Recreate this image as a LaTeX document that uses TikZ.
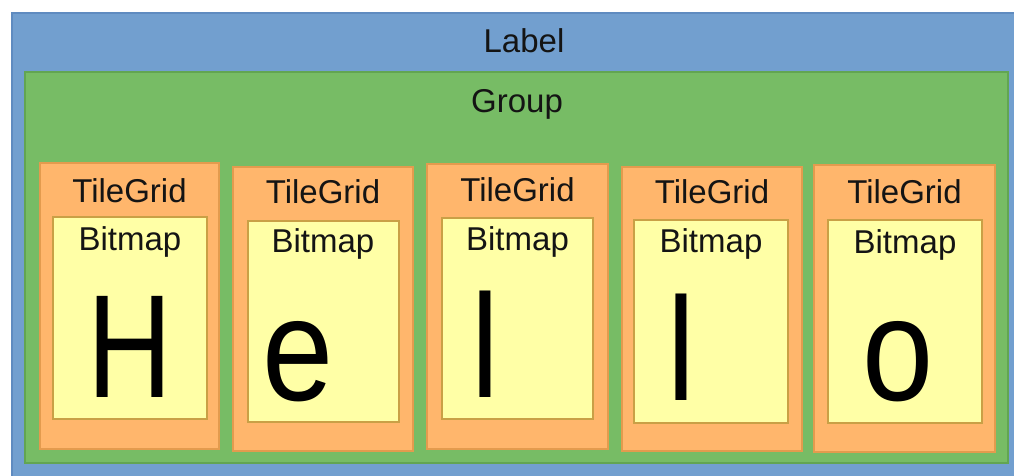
\documentclass[tikz,border=0pt]{standalone}
\usepackage{fontspec}
\setmainfont{Liberation Sans}
\definecolor{boxblue}{HTML}{729FCF}
\definecolor{boxblueline}{HTML}{5F8BC0}
\definecolor{boxgreen}{HTML}{77BC65}
\definecolor{boxgreenline}{HTML}{62A552}
\definecolor{boxorange}{HTML}{FFB66C}
\definecolor{boxorangeline}{HTML}{E39B4E}
\definecolor{boxyellow}{HTML}{FFFFA6}
\definecolor{boxyellowline}{HTML}{C9A046}
\definecolor{inktext}{HTML}{141414}
\newcommand{\narrowglyph}[2]{\scalebox{#1}[1]{#2}}
\tikzset{
  labelbox/.style={fill=boxblue, draw=boxblueline, line width=1.2pt},
  groupbox/.style={fill=boxgreen, draw=boxgreenline, line width=1.2pt},
  tilebox/.style={fill=boxorange, draw=boxorangeline, line width=1.2pt},
  bitbox/.style={fill=boxyellow, draw=boxyellowline, line width=1.2pt},
  caption/.style={anchor=base, inner sep=0pt, text=inktext, font=\fontsize{33}{36}\selectfont},
  glyph/.style={anchor=base, inner sep=0pt, text=black, font=\fontsize{147}{150}\selectfont}
}
\begin{document}
\begin{tikzpicture}[x=1pt, y=-1pt]
\useasboundingbox (0,0) rectangle (1014,476);
\clip (0,0) rectangle (1014,476);
\fill[white] (0,0) rectangle (1014,476);
% Label
\draw[labelbox] (12,13) rectangle (1024,490);
\node[caption] (label) at (524,53) {Label};
% Group
\draw[groupbox] (25,72) rectangle (1008,463);
\node[caption] (group) at (517,113) {Group};
% Tile 1
\draw[tilebox] (40,163) rectangle (219,449);
\node[caption] (tg1) at (129.5,202) {TileGrid};
\draw[bitbox] (53,217) rectangle (207,419);
\node[caption] (bm1) at (130,250) {Bitmap};
\node[glyph] (ch1) at (130,397) {\narrowglyph{0.8}{H}};
% Tile 2
\draw[tilebox] (233,167) rectangle (413,451);
\node[caption] (tg2) at (323,203) {TileGrid};
\draw[bitbox] (248,221) rectangle (399,422);
\node[caption] (bm2) at (323,252) {Bitmap};
\node[glyph] (ch2) at (298.5,400) {\narrowglyph{0.87}{e}};
% Tile 3
\draw[tilebox] (427,164) rectangle (608,449);
\node[caption] (tg3) at (517.5,201) {TileGrid};
\draw[bitbox] (442,218) rectangle (593,419);
\node[caption] (bm3) at (517.5,250) {Bitmap};
\node[glyph] (ch3) at (485.5,397) {\narrowglyph{0.85}{l}};
% Tile 4
\draw[tilebox] (622,167) rectangle (802,451);
\node[caption] (tg4) at (712,203) {TileGrid};
\draw[bitbox] (634,220) rectangle (788,423);
\node[caption] (bm4) at (711,252) {Bitmap};
\node[glyph] (ch4) at (681,400) {\narrowglyph{0.85}{l}};
% Tile 5
\draw[tilebox] (814,165) rectangle (995,452);
\node[caption] (tg5) at (904.5,203) {TileGrid};
\draw[bitbox] (828,220) rectangle (982,423);
\node[caption] (bm5) at (905,253) {Bitmap};
\node[glyph] (ch5) at (898,400) {\narrowglyph{0.87}{o}};
\end{tikzpicture}
\end{document}
